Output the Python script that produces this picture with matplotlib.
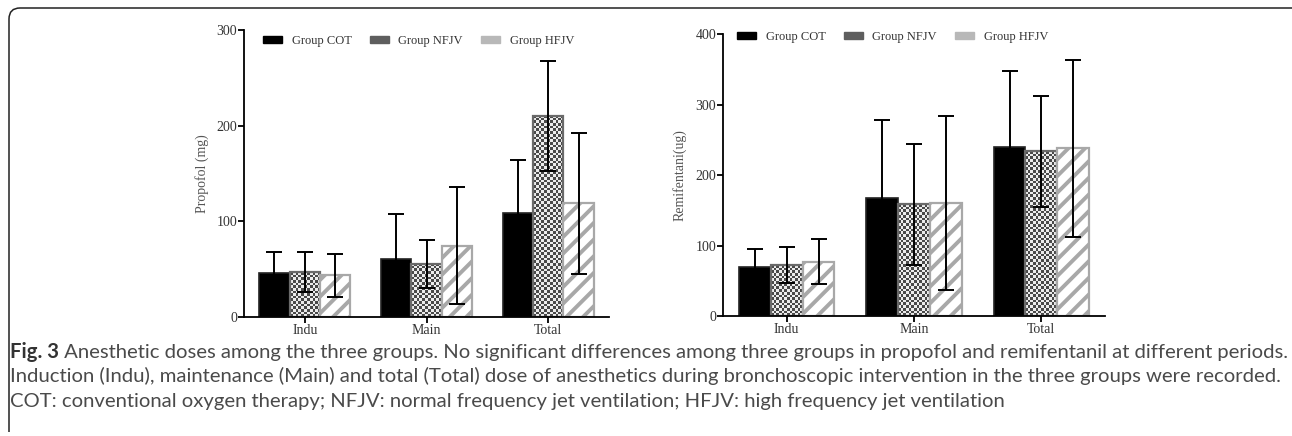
import numpy as np
import matplotlib
matplotlib.use("Agg")
import matplotlib.pyplot as plt
from matplotlib.patches import Patch, PathPatch
from matplotlib.path import Path

# ---------------- data ----------------
periods = ["Indu", "Main", "Total"]
groups = ["Group COT", "Group NFJV", "Group HFJV"]

propofol_cot = [46, 61, 108.6]
propofol_cot_sd = [22, 46.5, 55]
propofol_nfjv = [46.7, 55.5, 210.6]
propofol_nfjv_sd = [20.8, 25.5, 57.5]
propofol_hfjv = [43.5, 74.5, 118.7]
propofol_hfjv_sd = [22.5, 61, 74]

remi_cot = [70, 167.8, 240.2]
remi_cot_sd = [24.6, 110.2, 107.8]
remi_nfjv = [72, 158.4, 233.6]
remi_nfjv_sd = [25.4, 85.6, 78.4]
remi_hfjv = [77, 159.8, 237.8]
remi_hfjv_sd = [32, 123.2, 125.8]

propofol_ticks = [0, 100, 200, 300]
remi_ticks = [0, 100, 200, 300, 400]

caption_bold = "Fig. 3"
caption_l1 = (" Anesthetic doses among the three groups. No significant differences among three groups "
              "in propofol and remifentanil at different periods.")
caption_l2 = ("Induction (Indu), maintenance (Main) and total (Total) dose of anesthetics during "
              "bronchoscopic intervention in the three groups were recorded.")
caption_l3 = ("COT: conventional oxygen therapy; NFJV: normal frequency jet ventilation; "
              "HFJV: high frequency jet ventilation")

# ---------------- style ----------------
plt.rcParams['hatch.linewidth'] = 2.8
TICKFONT = "Liberation Serif"
TFS = 10
LFS = 9
W, H = 1292, 436
fig = plt.figure(figsize=(W / 100, H / 100), dpi=100)

ax1 = fig.add_axes([244 / W, (H - 317) / H, 365 / W, 287 / H])
ax2 = fig.add_axes([723 / W, (H - 316) / H, 382 / W, 282 / H])

bw = 0.25
x = np.arange(len(periods))

def draw(ax, cot, cot_sd, nf, nf_sd, hf, hf_sd, ymax, ticks, ylabel, leg_xy, ylab_x, colsp):
    ax.set_xlim(-0.5, 2.5)
    ax.set_ylim(0, ymax)
    ax.bar(x - bw, cot, bw, color="black", edgecolor="#222222", linewidth=1.2, zorder=2)
    bars_n = ax.bar(x, nf, bw, facecolor="none", edgecolor="#6a6a6a", linewidth=1.6, zorder=2)
    ax.bar(x + bw, hf, bw, facecolor="white", edgecolor="#a8a8a8", hatch="//",
           linewidth=1.6, zorder=2)
    # checkerboard fill for NFJV bars
    fig.canvas.draw()
    px_per_unit = ax.get_window_extent().height / ymax
    px_per_x = ax.get_window_extent().width / 3.0
    cell = 2.7
    for b in bars_n:
        x0, w_ = b.get_x(), b.get_width()
        h_ = b.get_height()
        cols = max(1, int(round(w_ * px_per_x / cell)))
        rows = max(1, int(round(h_ * px_per_unit / cell)))
        ii, jj = np.indices((rows, cols))
        chk = ((ii + jj) % 2).astype(float)
        im = ax.imshow(chk, extent=[x0, x0 + w_, 0, h_], cmap="gray", vmin=-0.45, vmax=1.12,
                       interpolation="nearest", aspect="auto", zorder=1.9, origin="lower")
        im.set_clip_path(b)
    ax.set_xlim(-0.5, 2.5)
    ax.set_ylim(0, ymax)
    ax.set_aspect("auto")
    ek = dict(fmt="none", ecolor="black", elinewidth=1.4, capsize=5.5, capthick=1.4, zorder=3)
    ax.errorbar(x - bw, cot, yerr=cot_sd, **ek)
    ax.errorbar(x, nf, yerr=nf_sd, **ek)
    ax.errorbar(x + bw, hf, yerr=hf_sd, **ek)

    for s in ["top", "right"]:
        ax.spines[s].set_visible(False)
    for s in ["left", "bottom"]:
        ax.spines[s].set_linewidth(1.3)
    ax.set_xticks(x)
    ax.set_xticklabels(periods, fontfamily=TICKFONT, fontsize=TFS, color="#333333")
    ax.set_yticks(ticks)
    ax.set_yticklabels([str(t) for t in ticks], fontfamily=TICKFONT, fontsize=TFS, color="#333333")
    ax.tick_params(direction="out", length=4, width=1.3, pad=1)
    ax.set_ylabel(ylabel, fontfamily=TICKFONT, fontsize=TFS, color="#555555")
    ax.yaxis.set_label_coords(ylab_x, 0.5)

    handles = [Patch(facecolor="black", edgecolor="black"),
               Patch(facecolor="#5e5e5e", edgecolor="#5e5e5e"),
               Patch(facecolor="#b8b8b8", edgecolor="#b8b8b8")]
    ax.legend(handles, groups, ncol=3, frameon=False, loc="center left",
              bbox_to_anchor=leg_xy, borderaxespad=0, borderpad=0,
              prop={"family": TICKFONT, "size": LFS}, labelcolor="#333333",
              handlelength=1.5, handleheight=0.5, handletextpad=0.8, columnspacing=colsp)

draw(ax1, propofol_cot, propofol_cot_sd, propofol_nfjv, propofol_nfjv_sd,
     propofol_hfjv, propofol_hfjv_sd, 300, propofol_ticks, "Propofol (mg)",
     ((263 - 244) / 365, (317 - 41) / 287), -0.095, 1.45)
draw(ax2, remi_cot, remi_cot_sd, remi_nfjv, remi_nfjv_sd,
     remi_hfjv, remi_hfjv_sd, 400, remi_ticks, "Remifentani(ug)",
     ((737 - 723) / 382, (316 - 37) / 282), -0.095, 1.45)

# ---------------- caption ----------------
CAPFONT = "Lato"
fs = 12.0
fig.canvas.draw()
r = fig.canvas.get_renderer()
tb = fig.text(10 / W, 1 - 352 / H, caption_bold, fontfamily=CAPFONT, fontweight="bold",
              fontsize=fs, color="#333333", va="center", ha="left")
tr = fig.text(0, 1 - 352 / H, caption_l1, fontfamily=CAPFONT, fontsize=fs, color="#4a4a4a",
              va="center", ha="left")
wb = tb.get_window_extent(r).width
wr = tr.get_window_extent(r).width
scale = (1283 - 10) / (wb + wr)
fs2 = fs * scale
tb.set_fontsize(fs2)
tr.set_fontsize(fs2)
wb = tb.get_window_extent(r).width
tr.set_x((10 + wb) / W)
fig.text(10 / W, 1 - 376 / H, caption_l2, fontfamily=CAPFONT, fontsize=fs2, color="#4a4a4a",
         va="center", ha="left")
fig.text(10 / W, 1 - 401 / H, caption_l3, fontfamily=CAPFONT, fontsize=fs2, color="#4a4a4a",
         va="center", ha="left")

# ---------------- frame ----------------
def fx(px):
    return px / W
def fy(py):
    return 1 - py / H
verts = [(fx(9), fy(432)), (fx(9), fy(19)), (fx(9), fy(8)), (fx(20), fy(8)), (fx(1292), fy(8))]
codes = [Path.MOVETO, Path.LINETO, Path.CURVE3, Path.CURVE3, Path.LINETO]
fig.add_artist(PathPatch(Path(verts, codes), transform=fig.transFigure, facecolor="none",
                         edgecolor="#222222", linewidth=1.1))

fig.savefig("out.png", dpi=100)
